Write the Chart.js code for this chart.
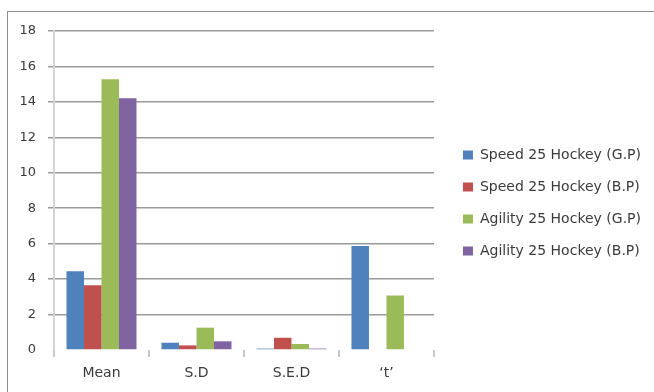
<!DOCTYPE html>
<html>
<head>
<meta charset="utf-8">
<script src="https://cdn.jsdelivr.net/npm/chart.js@4"></script>
<style>
  html, body { margin: 0; padding: 0; background: #ffffff; }
  #wrap { position: relative; width: 654px; height: 392px; }
</style>
</head>
<body>
<div id="wrap"><canvas id="chart" width="654" height="392"></canvas></div>
<script>
// Categories and series
const categories = ['Mean', 'S.D', 'S.E.D', '\u2018t\u2019'];
const seriesNames = [
  'Speed 25 Hockey (G.P)',
  'Speed 25 Hockey (B.P)',
  'Agility 25 Hockey (G.P)',
  'Agility 25 Hockey (B.P)'
];
const speedGP   = [4.44, 0.41, 0.08, 5.87];
const speedBP   = [3.66, 0.26, 0.69, null];
const agilityGP = [15.28, 1.26, 0.34, 3.08];
const agilityBP = [14.21, 0.49, 0.08, null];
const yTicks = [0, 2, 4, 6, 8, 10, 12, 14, 16, 18];

const colors = ['#4F81BD', '#C0504D', '#9BBB59', '#8064A2'];
const seriesValues = [speedGP, speedBP, agilityGP, agilityBP];

const FONT = 'DejaVu Sans';
const TEXT = '#3a3a3a';

// White page and the outer frame of the chart
const framePlugin = {
  id: 'frame',
  beforeDraw(chart) {
    const ctx = chart.ctx;
    ctx.save();
    ctx.fillStyle = '#ffffff';
    ctx.fillRect(0, 0, chart.width, chart.height);
    ctx.strokeStyle = '#8c8c8c';
    ctx.lineWidth = 1;
    ctx.strokeRect(7.5, 11.5, chart.width + 20, chart.height + 20);
    ctx.restore();
  }
};

new Chart(document.getElementById('chart'), {
  type: 'bar',
  data: {
    labels: categories,
    datasets: seriesValues.map((vals, i) => ({
      label: seriesNames[i],
      data: vals,
      backgroundColor: colors[i],
      borderWidth: 0,
      barPercentage: 1.0,
      categoryPercentage: 0.737
    }))
  },
  options: {
    responsive: false,
    animation: false,
    devicePixelRatio: 1,
    layout: { padding: { left: 0, right: 3, top: 31, bottom: 9 } },
    plugins: {
      title: { display: false },
      tooltip: { enabled: false },
      legend: {
        position: 'right',
        align: 'center',
        maxWidth: 230,
        labels: {
          boxWidth: 10,
          boxHeight: 9,
          padding: 10,
          color: TEXT,
          font: { family: FONT, size: 14, lineHeight: '22px' },
          generateLabels(chart) {
            const items = Chart.defaults.plugins.legend.labels.generateLabels(chart);
            return items.map(it => Object.assign(it, { text: [it.text], lineWidth: 0 }));
          }
        }
      }
    },
    scales: {
      x: {
        offset: true,
        grid: {
          offset: true,
          drawOnChartArea: false,
          drawTicks: true,
          tickLength: 7,
          color: '#c8c8c8',
          lineWidth: 2
        },
        border: { display: false },
        ticks: {
          color: TEXT,
          padding: 8,
          font: { family: FONT, size: 14 }
        },
        afterFit(s) { s.height = 33; }
      },
      y: {
        min: 0,
        max: 18,
        afterBuildTicks(s) { s.ticks = yTicks.map(v => ({ value: v })); },
        grid: {
          color: c => (c.tick && c.tick.value === 0) ? 'rgba(0,0,0,0)' : '#9a9a9a',
          lineWidth: 1.5,
          tickLength: 6
        },
        border: { display: true, color: '#d4d4d4', width: 2 },
        ticks: {
          color: TEXT,
          padding: 12,
          font: { family: FONT, size: 13 }
        },
        afterFit(s) { s.width = 54; }
      },
      gap: {
        type: 'linear',
        position: 'right',
        display: true,
        grid: { display: false },
        border: { display: false },
        ticks: { display: false },
        afterFit(s) { s.width = 19; }
      }
    }
  },
  plugins: [framePlugin]
});
</script>
</body>
</html>
